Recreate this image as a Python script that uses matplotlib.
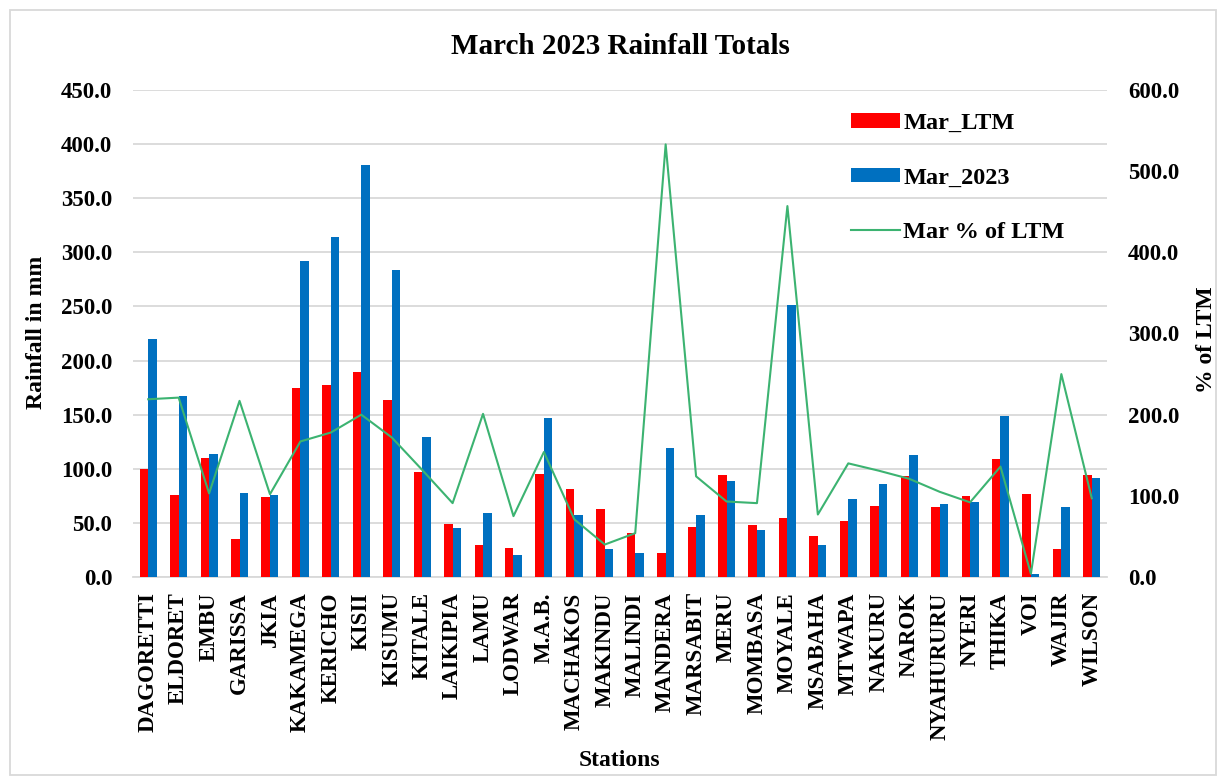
import matplotlib
matplotlib.use("Agg")
import matplotlib.pyplot as plt
import numpy as np
from matplotlib.patches import Rectangle

# station data, March 2023 vs long term mean
stations = ["DAGORETTI", "ELDORET", "EMBU", "GARISSA", "JKIA", "KAKAMEGA", "KERICHO",
            "KISII", "KISUMU", "KITALE", "LAIKIPIA", "LAMU", "LODWAR", "M.A.B.",
            "MACHAKOS", "MAKINDU", "MALINDI", "MANDERA", "MARSABIT", "MERU", "MOMBASA",
            "MOYALE", "MSABAHA", "MTWAPA", "NAKURU", "NAROK", "NYAHURURU", "NYERI",
            "THIKA", "VOI", "WAJIR", "WILSON"]

mar_ltm = [100.2, 75.5, 110.3, 35.5, 74.0, 175.0, 177.0, 189.4, 164.0, 97.0,
           49.3, 29.3, 27.0, 95.0, 81.3, 63.2, 41.0, 22.4, 46.2, 94.6,
           48.4, 54.6, 37.9, 51.5, 65.6, 93.0, 64.7, 74.9, 109.4, 76.4,
           25.6, 94.6]

mar_2023 = [220.3, 167.0, 114.0, 78.0, 75.5, 291.7, 314.0, 381.0, 284.0, 129.4,
            45.3, 59.0, 20.0, 147.3, 57.6, 25.6, 22.0, 119.2, 57.6, 88.4,
            43.8, 251.0, 29.3, 72.4, 86.3, 112.5, 67.8, 69.3, 148.8, 3.1,
            64.7, 91.8]

pct_ltm = [219, 221, 103, 217, 102, 167, 178, 200, 172, 132,
           91, 201, 75, 154, 71, 40, 54, 533, 124, 93,
           91, 457, 77, 140, 131, 121, 105, 92, 136, 4,
           250, 97]

left_ticks = np.arange(0, 451, 50)
right_ticks = np.arange(0, 601, 100)

plt.rcParams["font.family"] = ["Liberation Serif", "DejaVu Serif"]
plt.rcParams["font.weight"] = "bold"

W, H = 1221, 778
fig = plt.figure(figsize=(W / 100, H / 100), dpi=100)
ax = fig.add_axes([133 / W, 1 - 577 / H, (1107 - 133) / W, (577 - 90) / H])
ax2 = ax.twinx()

x = np.arange(len(stations))
bw = 0.28
b1 = ax.bar(x - bw / 2, mar_ltm, bw, color="#FF0000", zorder=3)
b2 = ax.bar(x + bw / 2, mar_2023, bw, color="#0070C0", zorder=3)
l1, = ax2.plot(x, pct_ltm, color="#3CB371", lw=1.5)

grid_c = "#D9D9D9"
ax.set_xlim(-0.5, len(stations) - 0.5)
ax.set_ylim(0, 450)
ax.set_yticks(left_ticks)
ax.set_yticklabels([f"{v:.1f}" for v in left_ticks])
ax2.set_ylim(0, 600)
ax2.set_yticks(right_ticks)
ax2.set_yticklabels([f"{v:.1f}" for v in right_ticks])
ax.yaxis.grid(True, color=grid_c, lw=1.3, zorder=0)
ax.set_axisbelow(True)

ax.set_xticks(x)
ax.set_xticklabels(stations, rotation=90, fontsize=16.5, fontweight="bold")
for a in (ax, ax2):
    for s in a.spines.values():
        s.set_visible(False)
    a.tick_params(axis="y", length=0, labelsize=16.5, pad=15)
ax.spines["bottom"].set_visible(True)
ax.spines["bottom"].set_color(grid_c)
ax.spines["bottom"].set_linewidth(1.3)
ax.tick_params(axis="x", length=0, pad=11)

fig.text(620 / W, 1 - 47 / H, "March 2023 Rainfall Totals", ha="center", va="center",
         fontsize=21, fontweight="bold")
fig.text(620 / W, 1 - 760 / H, "Stations", ha="center", va="center",
         fontsize=17, fontweight="bold")
fig.text(37 / W, 1 - 332 / H, "Rainfall in mm", ha="center", va="center",
         rotation=90, fontsize=17, fontweight="bold")
fig.text(1207 / W, 1 - 340 / H, "% of LTM", ha="center", va="center",
         rotation=90, fontsize=17, fontweight="bold")

ax2.legend([b1, b2, l1], ["Mar_LTM", "Mar_2023", "Mar % of LTM"],
           loc="upper left", bbox_to_anchor=(851 / W, 1 - 113 / H),
           bbox_transform=fig.transFigure, frameon=False,
           prop={"size": 17.5, "weight": "bold"}, borderpad=0, borderaxespad=0,
           handlelength=2.0, handleheight=0.55, handletextpad=0.15,
           labelspacing=1.38)

# light chart-area border
fig.patches.append(Rectangle((10 / W, 3 / H), 1206 / W, 765 / H, transform=fig.transFigure,
                             fill=False, edgecolor=grid_c, lw=1.3))

fig.savefig("out.png", dpi=100)
